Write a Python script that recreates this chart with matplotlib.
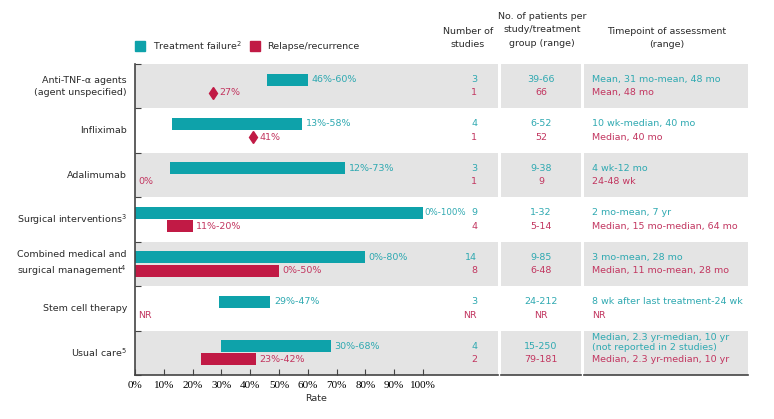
import matplotlib.pyplot as plt
from matplotlib.patches import Rectangle

# data
groups = ['Anti-TNF-α agents\n(agent unspecified)', 'Infliximab', 'Adalimumab',
          'Surgical interventions$^3$', 'Combined medical and\nsurgical management$^4$',
          'Stem cell therapy', 'Usual care$^5$']
tf_low = [46, 13, 12, 0, 0, 29, 30]
tf_high = [60, 58, 73, 100, 80, 47, 68]
tf_labels = ['46%-60%', '13%-58%', '12%-73%', '0%-100%', '0%-80%', '29%-47%', '30%-68%']
rr_low = [27, 41, 0, 11, 0, None, 23]
rr_high = [27, 41, 0, 20, 50, None, 42]
rr_labels = ['27%', '41%', '0%', '11%-20%', '0%-50%', 'NR', '23%-42%']
n_studies_tf = ['3', '4', '3', '9', '14', '3', '4']
n_studies_rr = ['1', '1', '1', '4', '8', 'NR', '2']
patients_tf = ['39-66', '6-52', '9-38', '1-32', '9-85', '24-212', '15-250']
patients_rr = ['66', '52', '9', '5-14', '6-48', 'NR', '79-181']
time_tf = ['Mean, 31 mo-mean, 48 mo', '10 wk-median, 40 mo', '4 wk-12 mo', '2 mo-mean, 7 yr',
           '3 mo-mean, 28 mo', '8 wk after last treatment-24 wk',
           'Median, 2.3 yr-median, 10 yr\n(not reported in 2 studies)']
time_rr = ['Mean, 48 mo', 'Median, 40 mo', '24-48 wk', 'Median, 15 mo-median, 64 mo',
           'Median, 11 mo-mean, 28 mo', 'NR', 'Median, 2.3 yr-median, 10 yr']
xticks = [0, 10, 20, 30, 40, 50, 60, 70, 80, 90, 100]

TEAL = '#0EA2AA'
RED = '#C11A45'
TEAL_TXT = '#2FA9B1'
RED_TXT = '#C23660'
GRAY = '#E4E4E4'
DARK = '#2A2A2A'
FS = 6.8

W, H = 774, 419
fig = plt.figure(figsize=(W / 100, H / 100), dpi=100)


def fx(px):
    return px / W


def fy(py):
    return 1 - py / H


bottom, top = fy(375), fy(64)
ax = fig.add_axes([fx(135), bottom, fx(498) - fx(135), top - bottom])
ax2 = fig.add_axes([fx(501), bottom, fx(581) - fx(501), top - bottom])
ax3 = fig.add_axes([fx(584), bottom, fx(748) - fx(584), top - bottom])

n = len(groups)
xmax = (498 - 135) / 2.88
ax.set_xlim(0, xmax)
for a in (ax, ax2, ax3):
    a.set_ylim(n - 0.5, -0.5)
    for i in range(n):
        if i % 2 == 0:
            a.add_patch(Rectangle((0, i - 0.5), 1, 1, transform=a.get_yaxis_transform(),
                                  color=GRAY, lw=0, zorder=0))
    for s in ('top', 'right'):
        a.spines[s].set_visible(False)
    a.spines['bottom'].set_color('#444444')
    a.spines['bottom'].set_linewidth(1.2)

for a in (ax2, ax3):
    a.spines['left'].set_visible(False)
    a.set_xticks([])
    a.set_yticks([])
    a.set_xlim(0, 1)

ax.spines['left'].set_color('#444444')
ax.spines['left'].set_linewidth(1.2)
ax.set_yticks([i - 0.5 for i in range(n + 1)])
ax.set_yticklabels([])
ax.tick_params(axis='y', direction='in', length=4, color='#444444')
ax.set_xticks(xticks)
ax.set_xticklabels([f'{t}%' for t in xticks], family='Liberation Serif', fontsize=8)
ax.tick_params(axis='x', direction='in', length=4, color='#444444', pad=4)
ax.set_xlabel('Rate', fontsize=FS, labelpad=3, color=DARK)

bh = 0.27
off = 0.15
for i in range(n):
    # treatment failure
    ax.barh(i - off, tf_high[i] - tf_low[i], left=tf_low[i], height=bh, color=TEAL, zorder=2)
    if tf_high[i] >= 100:
        ax.text(tf_high[i] + 0.4, i - off, tf_labels[i], color=TEAL_TXT, fontsize=FS - 0.6,
                va='center', ha='left')
    else:
        ax.text(tf_high[i] + 1.2, i - off, tf_labels[i], color=TEAL_TXT, fontsize=FS,
                va='center', ha='left')
    # relapse / recurrence
    if rr_low[i] is None or rr_high[i] == 0:
        ax.text(1.2, i + off, rr_labels[i], color=RED_TXT, fontsize=FS, va='center')
    elif rr_low[i] == rr_high[i]:
        ax.plot(rr_low[i], i + off, marker='d', color=RED, ms=6, zorder=3)
        ax.text(rr_low[i] + 2.2, i + off, rr_labels[i], color=RED_TXT, fontsize=FS, va='center')
    else:
        ax.barh(i + off, rr_high[i] - rr_low[i], left=rr_low[i], height=bh, color=RED, zorder=2)
        ax.text(rr_high[i] + 1.2, i + off, rr_labels[i], color=RED_TXT, fontsize=FS, va='center')

    # row label
    ax.text(-2.8, i, groups[i], ha='right', va='center', fontsize=FS, color=DARK,
            linespacing=1.4)

    # number of studies
    xs = (477 - 135) / 2.88
    ax.text(xs, i - off, n_studies_tf[i], ha='right', va='center', color=TEAL_TXT, fontsize=FS)
    ax.text(xs, i + off, n_studies_rr[i], ha='right', va='center', color=RED_TXT, fontsize=FS)

    # patients
    ax2.text(0.5, i - off, patients_tf[i], ha='center', va='center', color=TEAL_TXT, fontsize=FS)
    ax2.text(0.5, i + off, patients_rr[i], ha='center', va='center', color=RED_TXT, fontsize=FS)

    # timepoint
    if '\n' in time_tf[i]:
        ax3.text(0.05, i - 0.225, time_tf[i], ha='left', va='center', color=TEAL_TXT,
                 fontsize=FS, linespacing=1.15)
        ax3.text(0.05, i + off, time_rr[i], ha='left', va='center', color=RED_TXT,
                 fontsize=FS)
    else:
        ax3.text(0.05, i - off, time_tf[i], ha='left', va='center', color=TEAL_TXT, fontsize=FS)
        ax3.text(0.05, i + off, time_rr[i], ha='left', va='center', color=RED_TXT, fontsize=FS)

# column headers
fig.text(fx(468), fy(38), 'Number of\nstudies', ha='center', va='center', fontsize=FS,
         color=DARK, linespacing=1.6)
fig.text(fx(542), fy(30), 'No. of patients per\nstudy/treatment\ngroup (range)', ha='center',
         va='center', fontsize=FS, color=DARK, linespacing=1.6)
fig.text(fx(667), fy(38), 'Timepoint of assessment\n(range)', ha='center', va='center',
         fontsize=FS, color=DARK, linespacing=1.6)

# legend
fig.patches.append(Rectangle((fx(135), fy(51)), fx(10), 10 / H, color=TEAL,
                             transform=fig.transFigure, figure=fig))
fig.text(fx(153), fy(46), 'Treatment failure$^2$', va='center', fontsize=FS, color=DARK)
fig.patches.append(Rectangle((fx(250), fy(51)), fx(10), 10 / H, color=RED,
                             transform=fig.transFigure, figure=fig))
fig.text(fx(267), fy(46), 'Relapse/recurrence', va='center', fontsize=FS, color=DARK)

fig.savefig('out.png', dpi=100)
